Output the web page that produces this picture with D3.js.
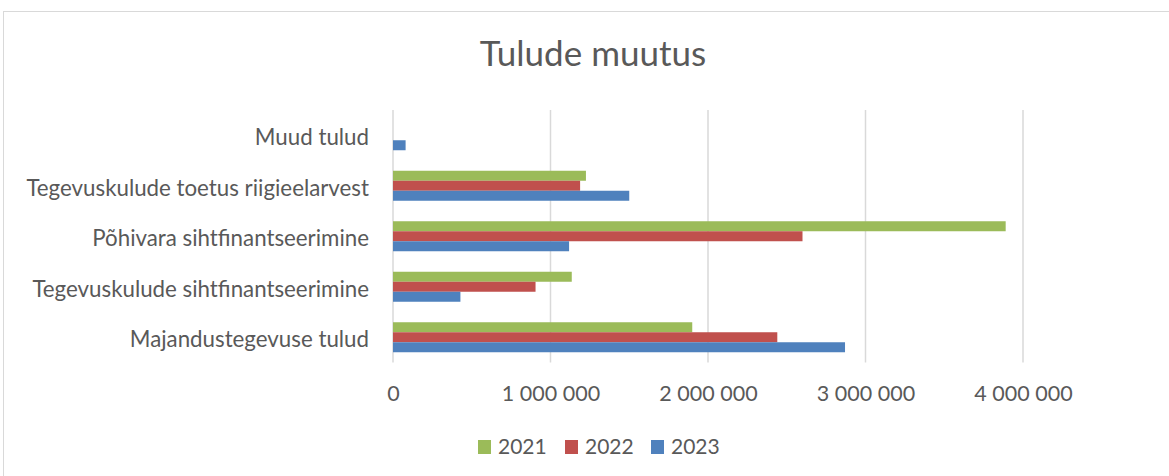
<!DOCTYPE html>
<html>
<head>
<meta charset="utf-8">
<script src="https://cdn.jsdelivr.net/npm/d3@7"></script>
<style>
	body { margin: 0; background: #fff; }
	text { font-family: Lato, "Open Sans", sans-serif; }
</style>
</head>
<body>
<script>
	const width = 1169;
	const height = 476;

	// Dati
	const categories = [
		"Majandustegevuse tulud",
		"Tegevuskulude sihtfinantseerimine",
		"Põhivara sihtfinantseerimine",
		"Tegevuskulude toetus riigieelarvest",
		"Muud tulud"
	];
	const years = ["2021", "2022", "2023"];
	const values2021 = [1900000, 1135000, 3890000, 1225000, 0];
	const values2022 = [2440000, 905000, 2600000, 1188000, 0];
	const values2023 = [2870000, 428000, 1118000, 1500000, 80000];
	const xTicks = [0, 1000000, 2000000, 3000000, 4000000];
	const colors = ["#9bbb59", "#c0504d", "#4f81bd"];

	const series = [values2021, values2022, values2023];

	const plot = { left: 393, right: 1023, top: 110, bottom: 362.5 };

	const svg = d3.select("body")
		.append("svg")
		.attr("width", width)
		.attr("height", height);

	// Bordo del grafico
	svg.append("rect")
		.attr("x", 3.5)
		.attr("y", 11.5)
		.attr("width", width + 10)
		.attr("height", height + 10)
		.attr("fill", "none")
		.attr("stroke", "#d9d9d9")
		.attr("stroke-width", 1);

	// Scale
	const x = d3.scaleLinear().domain([0, 4000000]).range([plot.left, plot.right]);
	const y = d3.scaleBand()
		.domain(categories)
		.range([plot.bottom, plot.top])
		.paddingInner(0.406)
		.paddingOuter(0.203);
	const ySub = d3.scaleBand().domain(years).range([0, y.bandwidth()]);

	// Titolo
	svg.append("text")
		.attr("x", 593)
		.attr("y", 66)
		.attr("text-anchor", "middle")
		.attr("font-size", 35)
		.attr("fill", "#595959")
		.text("Tulude muutus");

	// Griglia
	svg.append("g")
		.selectAll("line")
		.data(xTicks)
		.join("line")
		.attr("x1", d => x(d))
		.attr("x2", d => x(d))
		.attr("y1", plot.top)
		.attr("y2", plot.bottom)
		.attr("stroke", "#d9d9d9")
		.attr("stroke-width", 1.5);

	// Barre
	series.forEach((vals, i) => {
		svg.append("g")
			.selectAll("rect")
			.data(categories.map((c, j) => ({ c, v: vals[j] })).filter(d => d.v > 0))
			.join("rect")
			.attr("x", x(0))
			.attr("y", d => y(d.c) + ySub(years[i]))
			.attr("width", d => x(d.v) - x(0))
			.attr("height", ySub.bandwidth())
			.attr("fill", colors[i]);
	});

	// Asse x
	const xAxis = svg.append("g")
		.attr("transform", `translate(0, ${plot.bottom + 38.2})`)
		.call(d3.axisBottom(x).tickValues(xTicks).tickSize(0).tickPadding(0)
			.tickFormat(d => d3.format(",")(d).replace(/,/g, " ")));
	xAxis.select(".domain").remove();
	xAxis.selectAll("text")
		.attr("font-size", 21.5)
		.attr("fill", "#595959")
		.attr("dy", 0)
		.style("font-family", "Lato, sans-serif");

	// Asse y
	const yAxis = svg.append("g")
		.attr("transform", `translate(${plot.left - 24}, 0)`)
		.call(d3.axisLeft(y).tickSize(0).tickPadding(0));
	yAxis.select(".domain").remove();
	yAxis.selectAll("text")
		.attr("font-size", 22.3)
		.attr("fill", "#595959")
		.attr("dy", "0.45em")
		.style("font-family", "Lato, sans-serif");

	// Legenda
	const legendX = [478, 565, 651];
	const legend = svg.append("g")
		.selectAll("g")
		.data(years)
		.join("g")
		.attr("transform", (d, i) => `translate(${legendX[i]}, 440)`);
	legend.append("rect")
		.attr("x", 0)
		.attr("y", 0)
		.attr("width", 13)
		.attr("height", 14)
		.attr("fill", (d, i) => colors[i]);
	legend.append("text")
		.attr("x", 20)
		.attr("y", 14)
		.attr("font-size", 21)
		.attr("fill", "#595959")
		.text(d => d);
</script>
</body>
</html>
